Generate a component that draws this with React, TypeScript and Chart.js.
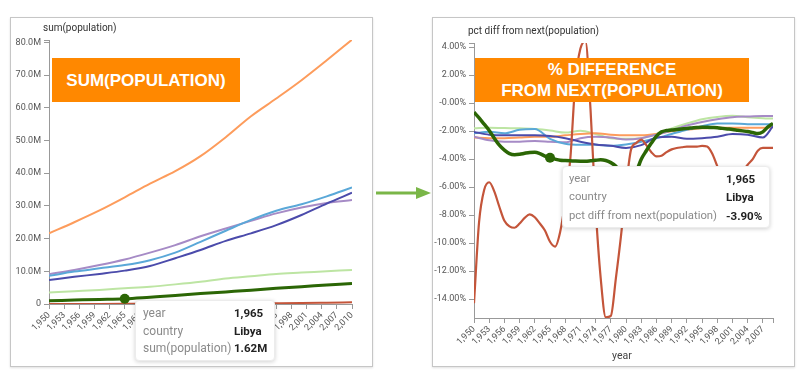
import React, { useEffect, useRef } from 'react';
import { Chart, registerables } from 'chart.js';

Chart.register(...registerables);

// ---------- shared ----------
const highlightCountry = 'Libya';
const highlightYear = 1965;

// ---------- left chart: sum(population), millions ----------
const leftYears = [1950, 1955, 1960, 1965, 1970, 1975, 1980, 1985, 1990, 1995, 2000, 2005, 2010];
const egyptPop = [21.6, 25.0, 28.6, 32.6, 36.8, 40.6, 45.2, 51.0, 57.4, 62.8, 68.4, 74.5, 80.8];
const algeriaPop = [8.6, 9.9, 10.9, 11.9, 13.4, 15.7, 19.0, 22.4, 25.7, 28.5, 30.5, 32.9, 35.6];
const moroccoPop = [9.1, 10.4, 11.9, 13.6, 15.7, 18.0, 20.7, 23.1, 25.4, 27.7, 29.5, 30.9, 31.8];
const sudanPop = [7.3, 8.3, 9.2, 10.2, 11.6, 14.0, 16.5, 19.3, 21.6, 24.1, 27.2, 30.7, 34.0];
const tunisiaPop = [3.5, 3.9, 4.3, 4.8, 5.3, 6.0, 6.8, 7.8, 8.5, 9.2, 9.6, 10.0, 10.4];
const libyaPop = [1.0, 1.2, 1.4, 1.62, 2.1, 2.6, 3.2, 3.7, 4.2, 4.8, 5.3, 5.8, 6.3];
const wSaharaPop = [0.01, 0.02, 0.03, 0.05, 0.08, 0.1, 0.15, 0.18, 0.22, 0.26, 0.31, 0.4, 0.5];

const leftXTicks = [1950, 1953, 1956, 1959, 1962, 1965, 1968, 1971, 1974, 1977, 1980, 1983, 1986, 1989, 1992, 1995, 1998, 2001, 2004, 2007, 2010];
const leftYTicks = [0, 10, 20, 30, 40, 50, 60, 70, 80];
const leftYTickLabels = ['0', '10.0M', '20.0M', '30.0M', '40.0M', '50.0M', '60.0M', '70.0M', '80.0M'];

// ---------- right chart: pct diff from next(population), % ----------
const rightCoarseYears = [1950, 1953, 1956, 1959, 1962, 1965, 1968, 1971, 1974, 1977, 1980, 1983, 1986, 1989, 1992, 1995, 1998, 2001, 2004, 2007, 2009];
const egyptPct = [-2.45, -2.5, -2.5, -2.45, -2.4, -2.4, -2.3, -2.2, -2.15, -2.25, -2.3, -2.3, -2.2, -2.0, -1.9, -1.8, -1.75, -1.75, -1.75, -1.75, -1.72];
const algeriaPct = [-2.15, -2.05, -2.15, -1.9, -1.85, -2.55, -2.9, -2.97, -2.97, -3.05, -2.95, -2.75, -2.5, -2.2, -1.9, -1.65, -1.45, -1.45, -1.5, -1.5, -1.5];
const moroccoPct = [-2.4, -2.65, -2.75, -2.75, -2.7, -2.75, -2.8, -2.5, -2.4, -2.45, -2.6, -2.5, -2.25, -1.95, -1.6, -1.35, -1.15, -1.0, -0.95, -0.92, -0.92];
const sudanPct = [-2.05, -2.25, -2.3, -2.3, -2.3, -2.35, -2.5, -2.75, -2.95, -3.05, -3.2, -3.0, -2.45, -2.4, -2.55, -2.5, -2.4, -2.2, -2.25, -2.45, -1.65];
const tunisiaPct = [-1.8, -1.75, -1.78, -1.8, -1.85, -1.95, -2.1, -1.97, -2.2, -2.5, -2.55, -2.5, -2.2, -1.8, -1.45, -1.15, -0.98, -0.9, -1.0, -1.07, -1.1];

const rightFineYears = [
  1950, 1951, 1952, 1953, 1954, 1955, 1956, 1957, 1958, 1959,
  1960, 1961, 1962, 1963, 1964, 1965, 1966, 1967, 1968, 1969,
  1970, 1971, 1972, 1973, 1974, 1975, 1976, 1977, 1978, 1979,
  1980, 1981, 1982, 1983, 1984, 1985, 1986, 1987, 1988, 1989,
  1990, 1991, 1992, 1993, 1994, 1995, 1996, 1997, 1998, 1999,
  2000, 2001, 2002, 2003, 2004, 2005, 2006, 2007, 2008, 2009,
];
const libyaPct = [
  -0.65, -1.05, -1.5, -1.95, -2.5, -3.0, -3.35, -3.6, -3.68, -3.65,
  -3.58, -3.52, -3.5, -3.6, -3.78, -3.9, -4.0, -4.08, -4.1, -4.12,
  -4.14, -4.15, -4.15, -4.12, -4.08, -4.05, -4.1, -4.25, -4.5, -4.95,
  -5.3, -5.3, -4.9, -4.0, -3.4, -2.85, -2.35, -2.05, -1.95, -1.92,
  -1.88, -1.84, -1.8, -1.77, -1.74, -1.72, -1.72, -1.74, -1.76, -1.8,
  -1.84, -1.88, -1.93, -1.98, -2.03, -2.1, -2.17, -2.05, -1.7, -1.45,
];
const wSaharaPct = [
  -14.3, -8.5, -6.2, -5.65, -6.3, -7.4, -8.4, -8.8, -8.9, -8.6,
  -8.2, -7.95, -8.15, -8.6, -9.1, -9.9, -10.25, -9.2, -7.0, -4.0,
  1.5, 3.9, 4.4, -0.5, -7.5, -12.5, -15.3, -15.2, -12.5, -9.5,
  -6.0, -3.3, -2.85, -2.6, -3.0, -3.5, -3.8, -3.75, -3.5, -3.3,
  -3.2, -3.15, -3.1, -3.1, -3.1, -3.05, -3.1, -3.6, -4.5, -5.3,
  -5.7, -5.8, -5.5, -4.9, -4.4, -4.0, -3.4, -3.2, -3.2, -3.2,
];

const rightXTicks = [1950, 1953, 1956, 1959, 1962, 1965, 1968, 1971, 1974, 1977, 1980, 1983, 1986, 1989, 1992, 1995, 1998, 2001, 2004, 2007];
const rightYTicks = [-14, -12, -10, -8, -6, -4, -2, 0, 2, 4];
const rightYTickLabels = ['-14.00%', '-12.00%', '-10.00%', '-8.00%', '-6.00%', '-4.00%', '-2.00%', '-0.00%', '2.00%', '4.00%'];

const COLORS: Record<string, string> = {
  Libya: '#2b6605',
  'Western Sahara': '#c4553a',
  Egypt: '#fd9c5c',
  Algeria: '#5aa8d8',
  Morocco: '#a68bc6',
  Sudan: '#4b4bab',
  Tunisia: '#bde5a3',
};

const TICK_FONT = { family: 'Roboto', size: 9 };
const TICK_COLOR = '#555';
const AXIS_COLOR = '#999';

function fmtYear(v: number) {
  return v.toLocaleString('en-US');
}

function makeDataset(name: string, years: number[], values: number[], width: number) {
  return {
    label: name,
    data: years.map((yr, i) => ({ x: yr, y: values[i] })),
    borderColor: COLORS[name],
    backgroundColor: COLORS[name],
    borderWidth: width,
    pointRadius: years.map((yr) => (name === highlightCountry && yr === highlightYear ? 5 : 0)),
    pointBorderWidth: 0,
    pointHoverRadius: 0,
    cubicInterpolationMode: 'monotone' as const,
    fill: false,
  };
}

function baseOptions(opts: {
  xMin: number; xMax: number; xTicks: number[]; xEnd: number | null; xHeight: number;
  yMin: number; yMax: number; yTicks: number[]; yLabels: string[]; yWidth: number;
  padTop: number; padRight: number;
}) {
  return {
    responsive: false,
    animation: false as const,
    events: [],
    layout: { padding: { top: opts.padTop, right: opts.padRight, left: 0, bottom: 0 } },
    plugins: { legend: { display: false }, tooltip: { enabled: false } },
    scales: {
      x: {
        type: 'linear' as const,
        min: opts.xMin,
        max: opts.xMax,
        afterBuildTicks: (s: any) => {
          const vals = opts.xTicks.slice();
          if (opts.xEnd !== null) vals.push(opts.xEnd);
          s.ticks = vals.map((v) => ({ value: v }));
        },
        afterFit: (s: any) => { s.height = opts.xHeight; },
        ticks: {
          autoSkip: false,
          maxRotation: 45,
          minRotation: 45,
          padding: 1,
          font: TICK_FONT,
          color: TICK_COLOR,
          callback: (v: number) => (opts.xTicks.includes(v) ? fmtYear(v) : ''),
        },
        grid: { drawOnChartArea: false, drawTicks: true, tickLength: 5, color: AXIS_COLOR },
        border: { display: true, color: AXIS_COLOR },
      },
      y: {
        type: 'linear' as const,
        min: opts.yMin,
        max: opts.yMax,
        afterBuildTicks: (s: any) => {
          const vals = opts.yTicks.slice();
          vals.push(opts.yMax);
          s.ticks = vals.map((v) => ({ value: v }));
        },
        afterFit: (s: any) => { s.width = opts.yWidth; },
        ticks: {
          padding: 3,
          font: TICK_FONT,
          color: TICK_COLOR,
          callback: (v: number) => {
            const i = opts.yTicks.indexOf(v);
            return i >= 0 ? opts.yLabels[i] : '';
          },
        },
        grid: { drawOnChartArea: false, drawTicks: true, tickLength: 5, color: AXIS_COLOR },
        border: { display: true, color: AXIS_COLOR },
      },
    },
  };
}

const PANEL_W = 363;
const PANEL_H = 350;

export default function App() {
  const leftRef = useRef<HTMLCanvasElement | null>(null);
  const rightRef = useRef<HTMLCanvasElement | null>(null);

  useEffect(() => {
    const left = new Chart(leftRef.current as HTMLCanvasElement, {
      type: 'line',
      data: {
        datasets: [
          makeDataset('Libya', leftYears, libyaPop, 3),
          makeDataset('Western Sahara', leftYears, wSaharaPop, 2),
          makeDataset('Sudan', leftYears, sudanPop, 2),
          makeDataset('Algeria', leftYears, algeriaPop, 2),
          makeDataset('Morocco', leftYears, moroccoPop, 2),
          makeDataset('Tunisia', leftYears, tunisiaPop, 2),
          makeDataset('Egypt', leftYears, egyptPop, 2),
        ] as any,
      },
      options: baseOptions({
        xMin: 1950, xMax: 2010, xTicks: leftXTicks, xEnd: null, xHeight: 63,
        yMin: 0, yMax: 80.7, yTicks: leftYTicks, yLabels: leftYTickLabels, yWidth: 39,
        padTop: 23, padRight: 21,
      }) as any,
    });

    const right = new Chart(rightRef.current as HTMLCanvasElement, {
      type: 'line',
      data: {
        datasets: [
          makeDataset('Libya', rightFineYears, libyaPct, 3.5),
          makeDataset('Western Sahara', rightFineYears, wSaharaPct, 2.2),
          makeDataset('Sudan', rightCoarseYears, sudanPct, 2),
          makeDataset('Algeria', rightCoarseYears, algeriaPct, 2),
          makeDataset('Morocco', rightCoarseYears, moroccoPct, 2),
          makeDataset('Egypt', rightCoarseYears, egyptPct, 2),
          makeDataset('Tunisia', rightCoarseYears, tunisiaPct, 2),
        ] as any,
      },
      options: baseOptions({
        xMin: 1950, xMax: 2009, xTicks: rightXTicks, xEnd: 2009, xHeight: 49,
        yMin: -15.35, yMax: 4.3, yTicks: rightYTicks, yLabels: rightYTickLabels, yWidth: 42,
        padTop: 26, padRight: 22,
      }) as any,
    });

    return () => {
      left.destroy();
      right.destroy();
    };
  }, []);

  const panel = (x: number): React.CSSProperties => ({
    position: 'absolute', left: x, top: 17, width: PANEL_W, height: PANEL_H,
    border: '1px solid #c6c6c6', boxSizing: 'border-box', boxShadow: '0 1px 2px rgba(0,0,0,0.12)',
  });
  const canvasStyle = (x: number): React.CSSProperties => ({
    position: 'absolute', left: x, top: 17, width: PANEL_W, height: PANEL_H,
  });
  const orangeBox: React.CSSProperties = {
    position: 'absolute', background: '#ff8800', color: '#fff',
    fontFamily: '"Liberation Sans", Arial, sans-serif', fontWeight: 700, fontSize: 17,
    display: 'flex', alignItems: 'center', justifyContent: 'center', textAlign: 'center',
    lineHeight: '21px',
  };
  const tooltipBox: React.CSSProperties = {
    position: 'absolute', background: '#fff', borderRadius: 4,
    border: '1px solid #ececec', boxShadow: '0 1px 4px rgba(0,0,0,0.18)',
    fontFamily: 'Roboto, sans-serif', fontSize: 11.5, boxSizing: 'border-box',
  };
  const ttValue: React.CSSProperties = { color: '#222', fontWeight: 700 };

  const ttRows = (labels: string[], values: string[], labelW: number, rowH: number, labelSize: number) =>
    labels.map((l, i) => (
      <div key={l} style={{ display: 'flex', height: rowH, lineHeight: rowH + 'px', whiteSpace: 'nowrap' }}>
        <div style={{ color: '#8a8a8a', width: labelW, fontSize: labelSize }}>{l}</div>
        <div style={ttValue}>{values[i]}</div>
      </div>
    ));

  return (
    <div style={{ position: 'absolute', left: 0, top: 0, width: 810, height: 385, background: '#fff', overflow: 'hidden' }}>
      <div style={panel(10)} />
      <div style={panel(432)} />
      <canvas ref={leftRef} width={PANEL_W} height={PANEL_H} style={canvasStyle(10)} />
      <canvas ref={rightRef} width={PANEL_W} height={PANEL_H} style={canvasStyle(432)} />

      <div style={{ position: 'absolute', left: 43, top: 22, fontFamily: 'Roboto, sans-serif', fontSize: 10, color: '#333', whiteSpace: 'nowrap' }}>
        sum(population)
      </div>
      <div style={{ position: 'absolute', left: 468, top: 25, fontFamily: 'Roboto, sans-serif', fontSize: 10, color: '#333', whiteSpace: 'nowrap' }}>
        pct diff from next(population)
      </div>
      <div style={{ position: 'absolute', left: 612, top: 349, fontFamily: 'Roboto, sans-serif', fontSize: 10.5, color: '#444' }}>
        year
      </div>

      <div style={{ ...orangeBox, left: 52, top: 58, width: 188, height: 44 }}>SUM(POPULATION)</div>
      <div style={{ ...orangeBox, left: 475, top: 58, width: 274, height: 44 }}>
        % DIFFERENCE<br />FROM NEXT(POPULATION)
      </div>

      <svg style={{ position: 'absolute', left: 370, top: 180 }} width={66} height={26}>
        <line x1={6} y1={13} x2={50} y2={13} stroke="#7ab648" strokeWidth={3} />
        <polygon points="46,7 61,13 46,19" fill="#7ab648" />
      </svg>

      <div style={{ ...tooltipBox, left: 135, top: 300, width: 140, height: 61, padding: '4px 0 0 7px' }}>
        {ttRows(['year', 'country', 'sum(population)'], ['1,965', 'Libya', '1.62M'], 91, 17.5, 12)}
      </div>
      <div style={{ ...tooltipBox, left: 562, top: 166, width: 208, height: 62, padding: '3px 0 0 6px' }}>
        {ttRows(['year', 'country', 'pct diff from next(population)'], ['1,965', 'Libya', '-3.90%'], 157, 18.3, 11.3)}
      </div>
    </div>
  );
}
